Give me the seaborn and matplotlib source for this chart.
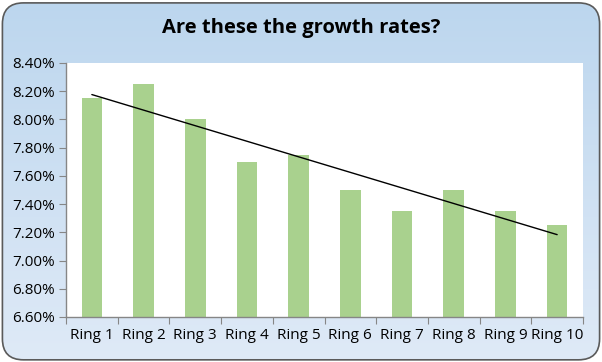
import numpy as np
import pandas as pd
import matplotlib
matplotlib.use("Agg")
import matplotlib.pyplot as plt
import seaborn as sns
from matplotlib.patches import FancyBboxPatch
from matplotlib.ticker import FuncFormatter, MultipleLocator

rings = ['Ring 1', 'Ring 2', 'Ring 3', 'Ring 4', 'Ring 5',
         'Ring 6', 'Ring 7', 'Ring 8', 'Ring 9', 'Ring 10']
rates = [8.15, 8.25, 8.00, 7.70, 7.75, 7.50, 7.35, 7.50, 7.35, 7.25]

df = pd.DataFrame({'ring': rings, 'rate': rates})

sns.set_style('white')
plt.rcParams['font.family'] = ['Open Sans', 'DejaVu Sans']
plt.rcParams['text.color'] = 'black'
plt.rcParams['xtick.color'] = 'black'
plt.rcParams['ytick.color'] = 'black'

fig = plt.figure(figsize=(6.02, 3.62), dpi=100)
fig.patch.set_facecolor('white')

# background: blue gradient inside a rounded border
bg = fig.add_axes([0, 0, 1, 1], zorder=0)
bg.set_xlim(0, 1)
bg.set_ylim(0, 1)
bg.axis('off')
box = FancyBboxPatch((0.004, 0.006), 0.992, 0.986, boxstyle='round,pad=0,rounding_size=0.035',
                     transform=bg.transData, facecolor='none', edgecolor='#5a5a5a', lw=1.2,
                     mutation_aspect=602 / 362)
bg.add_patch(box)
grad = np.linspace(0, 1, 256).reshape(-1, 1)
cmap = matplotlib.colors.LinearSegmentedColormap.from_list('bg', ['#bcd6ee', '#dfeaf7'])
im = bg.imshow(grad, aspect='auto', cmap=cmap, extent=[0, 1, 0, 1], origin='upper')
im.set_clip_path(box)

ax = fig.add_axes([66 / 602, 1 - 317 / 362, (583 - 66) / 602, (317 - 63) / 362], zorder=1)
sns.barplot(data=df, x='ring', y='rate', color='#a9d18e', saturation=1, width=0.4,
            linewidth=0, ax=ax)

# linear trend line
xs = np.arange(len(rates))
k, b = np.polyfit(xs, rates, 1)
ax.plot(xs, k * xs + b, color='black', lw=1)

ax.set_ylim(6.6, 8.4)
ax.set_xlim(-0.5, len(rings) - 0.5)
ax.yaxis.set_major_locator(MultipleLocator(0.2))
ax.yaxis.set_major_formatter(FuncFormatter(lambda v, p: f'{v:.2f}%'))
ax.set_xticks(np.arange(-0.5, len(rings), 1), minor=False)
ax.set_xticklabels([])
ax.set_xticks(xs, minor=True)
ax.set_xticklabels(rings, minor=True)
ax.tick_params(axis='x', which='major', length=5, color='#868686', direction='out', bottom=True)
ax.tick_params(axis='x', which='minor', length=0, labelsize=11, pad=8, labelcolor='black')
ax.tick_params(axis='y', length=5, color='#868686', direction='out', left=True, labelsize=11,
               pad=3, labelcolor='black')
ax.set_xlabel('')
ax.set_ylabel('')
ax.set_facecolor('white')
for s in ['top', 'right']:
    ax.spines[s].set_visible(False)
for s in ['left', 'bottom']:
    ax.spines[s].set_color('#868686')
    ax.spines[s].set_linewidth(1)

fig.text(0.5, 1 - 28 / 362, 'Are these the growth rates?', ha='center', va='center',
         fontsize=14.5, fontweight='bold', color='black')

fig.savefig('out.png', dpi=100)
